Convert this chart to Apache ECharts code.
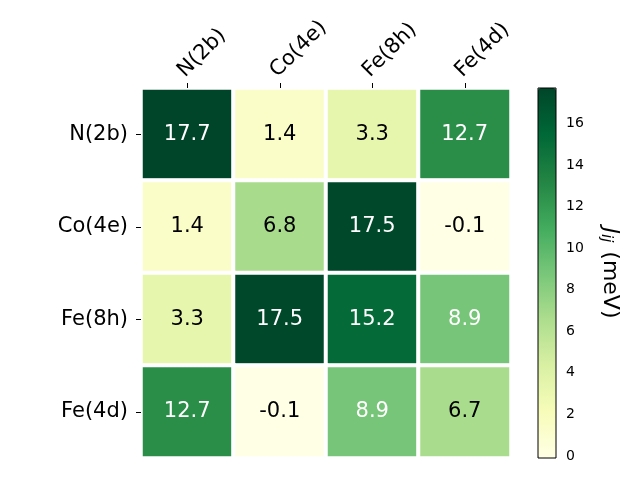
<!DOCTYPE html>
<html><head><meta charset="utf-8">
<script src="https://cdn.jsdelivr.net/npm/echarts@6/dist/echarts.min.js"></script>
<style>html,body{margin:0;padding:0;background:#fff}#c{width:640px;height:480px}</style>
</head><body><div id="c"></div>
<script>
const sites = ['N(2b)', 'Co(4e)', 'Fe(8h)', 'Fe(4d)'];
const row0 = [17.7, 1.4, 3.3, 12.7];
const row1 = [1.4, 6.8, 17.5, -0.1];
const row2 = [3.3, 17.5, 15.2, 8.9];
const row3 = [12.7, -0.1, 8.9, 6.7];
const rows = [row0, row1, row2, row3];
const cbTicks = [0, 2, 4, 6, 8, 10, 12, 14, 16];
const vmin = -0.1, vmax = 17.7;

const F = 'DejaVu Sans';
const mid = (vmin + vmax) / 2;
const data = [];
rows.forEach((r, yi) => r.forEach((v, xi) => {
  data.push({value: [xi, yi, v], label: {color: v > mid ? '#fff' : '#000'}});
}));

const chart = echarts.init(document.getElementById('c'), null, {renderer: 'canvas'});
chart.setOption({
  animation: false,
  backgroundColor: '#fff',
  grid: [
    {left: 141, top: 88, width: 370, height: 370, containLabel: false},
    {left: 538, top: 88, width: 18, height: 370, show: true, borderColor: '#000', borderWidth: 1, backgroundColor: 'transparent', z: 10}
  ],
  xAxis: [
    {type: 'category', data: sites, position: 'top', gridIndex: 0, z: 5,
     axisLine: {show: false}, splitLine: {show: false},
     axisTick: {show: true, alignWithLabel: true, length: 5, lineStyle: {color: '#000', width: 1}},
     axisLabel: {rotate: -45, fontFamily: F, fontSize: 21, color: '#000', margin: 8,
                 verticalAlign: 'bottom', lineHeight: 17}},
    {type: 'value', gridIndex: 1, show: false, min: 0, max: 1}
  ],
  yAxis: [
    {type: 'category', data: sites, inverse: true, gridIndex: 0, z: 5,
     axisLine: {show: false}, splitLine: {show: false},
     axisTick: {show: true, alignWithLabel: true, length: 5, lineStyle: {color: '#000', width: 1}},
     axisLabel: {fontFamily: F, fontSize: 21, color: '#000', margin: 13}},
    {type: 'value', gridIndex: 1, position: 'right', min: vmin, max: vmax,
     axisLine: {show: false}, splitLine: {show: false},
     axisTick: {show: true, length: 4, lineStyle: {color: '#000'}, customValues: cbTicks},
     axisLabel: {fontFamily: F, fontSize: 14, color: '#000', margin: 10, customValues: cbTicks},
     name: '{i|J}{s|ij} (meV)', nameLocation: 'middle', nameRotate: -90, nameGap: 42,
     nameTextStyle: {fontFamily: F, fontSize: 22, color: '#000',
       rich: {i: {fontFamily: F, fontSize: 22, fontStyle: 'italic', color: '#000'},
              s: {fontFamily: F, fontSize: 15, fontStyle: 'italic', color: '#000', padding: [8, 2, 0, 0]}}}}
  ],
  visualMap: {
    type: 'continuous', min: vmin, max: vmax, seriesIndex: 0,
    calculable: false, left: 538, top: 88, itemWidth: 18, itemHeight: 370,
    padding: 0, text: null, showLabel: false, hoverLink: false,
    inRange: {color: ['#ffffe5', '#f7fcb9', '#d9f0a3', '#addd8e', '#78c679', '#41ab5d', '#238443', '#006837', '#004529']}
  },
  series: [{
    type: 'heatmap', xAxisIndex: 0, yAxisIndex: 0, data: data,
    itemStyle: {borderColor: '#fff', borderWidth: 4},
    label: {show: true, fontFamily: F, fontSize: 21, formatter: p => p.value[2].toFixed(1)},
    emphasis: {disabled: true}
  }]
});
</script></body></html>
